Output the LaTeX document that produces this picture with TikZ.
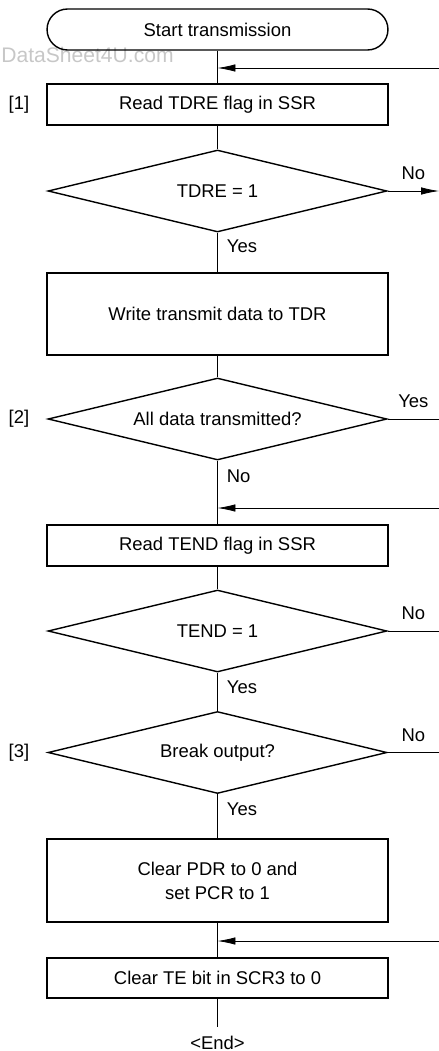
\documentclass[tikz,border=0pt]{standalone}
\usepackage{fontspec}
\setmainfont{Liberation Sans}
\usetikzlibrary{shapes.geometric,arrows.meta,positioning,calc}

\begin{document}
\begin{tikzpicture}[x=0.02cm,y=-0.02cm,
  every node/.style={font=\fontsize{10.5}{13.6}\selectfont},
  procbox/.style={draw=black,line width=0.8pt,minimum width=6.82cm,inner sep=0pt},
  termbox/.style={procbox,rounded corners=0.41cm},
  decbox/.style={draw=black,line width=0.8pt,shape=diamond,aspect=4,
    minimum width=6.78cm,minimum height=1.64cm,inner sep=0pt},
  flow/.style={line width=0.45pt},
  tip/.style={flow,-{Latex[length=0.36cm,width=0.15cm]}},
  vlab/.style={anchor=west,inner sep=0pt,xshift=0.18cm},
  hlab/.style={above=0.1cm}]
\useasboundingbox (0,0) rectangle (439,1051);

\node[text=black!22,font=\fontsize{12}{15}\selectfont,anchor=west,inner sep=0pt] (wmark) at (1,55) {DataSheet4U.com};

\node[termbox,minimum height=0.82cm] (start) at (217.5,29.5) {Start transmission};
\node[procbox,minimum height=0.82cm] (rdtdre) at (217.5,104.5) {Read TDRE flag in SSR};
\node[decbox] (tdre) at (217.5,191) {TDRE = 1};
\node[procbox,minimum height=1.64cm] (wrtdr) at (217.5,314) {Write transmit data to TDR};
\node[decbox] (alldata) at (217.5,419) {All data transmitted?};
\node[procbox,minimum height=0.82cm] (rdtend) at (217.5,545.5) {Read TEND flag in SSR};
\node[decbox] (tend) at (217.5,631) {TEND = 1};
\node[decbox] (brk) at (217.5,752.5) {Break output?};
\node[procbox,minimum height=1.66cm,align=center] (clrpdr) at (217.5,880.5) {Clear PDR to 0 and\\set PCR to 1};
\node[procbox,minimum height=0.8cm] (clrte) at (217.5,978) {Clear TE bit in SCR3 to 0};
\node (endlbl) at (217.5,1043) {<End>};

% step numbers
\node (n1) at (19,105) {[1]};
\node (n2) at (19,419) {[2]};
\node (n3) at (19,753) {[3]};

% loose ends at the right edge
\coordinate (in1) at (439,68);
\coordinate (in2) at (439,508);
\coordinate (in3) at (439,941);
\coordinate (out1) at (439,191);
\coordinate (out2) at (439,419);
\coordinate (out3) at (439,631);
\coordinate (out4) at (439,752.5);
\coordinate (fin) at (217.5,1027);

\draw[flow] (start) -- (rdtdre);
\draw[tip] (in1) -- (in1 -| start.south);
\draw[flow] (rdtdre) -- (tdre);
\draw[tip] (tdre.east) -- node[hlab] {No} (out1);
\draw[flow] (tdre) -- node[vlab,pos=0.33] {Yes} (wrtdr);
\draw[flow] (wrtdr) -- (alldata);
\draw[flow] (alldata.east) -- node[hlab] {Yes} (out2);
\draw[flow] (alldata) -- node[vlab,pos=0.25] {No} (rdtend);
\draw[tip] (in2) -- (in2 -| rdtend.north);
\draw[flow] (rdtend) -- (tend);
\draw[flow] (tend.east) -- node[hlab] {No} (out3);
\draw[flow] (tend) -- node[vlab,pos=0.37] {Yes} (brk);
\draw[flow] (brk.east) -- node[hlab] {No} (out4);
\draw[flow] (brk) -- node[vlab,pos=0.35] {Yes} (clrpdr);
\draw[flow] (clrpdr) -- (clrte);
\draw[tip] (in3) -- (in3 -| clrte.north);
\draw[flow] (clrte) -- (fin);
\end{tikzpicture}
\end{document}
